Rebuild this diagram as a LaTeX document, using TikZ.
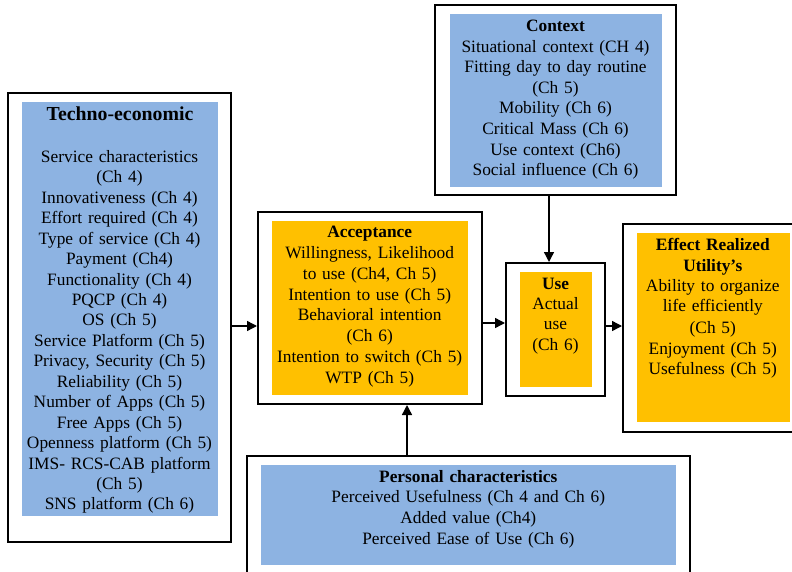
\documentclass[tikz,border=0pt]{standalone}
\usepackage{fontspec}
\setmainfont{Liberation Serif}
\usetikzlibrary{arrows.meta}
\definecolor{boxblue}{RGB}{141,179,226}
\definecolor{boxgold}{RGB}{255,192,0}
\tikzset{
  frame/.style={draw=black, line width=2pt, fill=white, inner sep=0pt},
  bluefill/.style={fill=boxblue, draw=none, inner sep=0pt},
  goldfill/.style={fill=boxgold, draw=none, inner sep=0pt},
  txt/.style={anchor=base, inner sep=0pt, text width=300pt, align=center,
    font=\fontsize{17.35}{#1}\selectfont},
  txt/.default=20.45,
  arr/.style={line width=1.4pt, -{Triangle[length=10pt,width=10pt]}}
}
\begin{document}
\begin{tikzpicture}[x=1pt,y=-1pt]
\useasboundingbox (0,0) rectangle (792,572);
\clip (0,0) rectangle (792,572);

% Techno-economic factors
\node[frame, minimum width=223pt, minimum height=449pt] (tech) at (119.5,317.5) {};
\node[bluefill, minimum width=196pt, minimum height=414pt] (techin) at (120,309) {};
\node[anchor=base, inner sep=0pt, font=\fontsize{19.8}{24}\selectfont\bfseries] (techhead) at (120,121) {Techno-economic};
\node[txt] (techtxt) at (119.5,162.3) {Service characteristics\\(Ch 4)\\Innovativeness (Ch 4)\\Effort required (Ch 4)\\Type of service (Ch 4)\\Payment (Ch4)\\Functionality (Ch 4)\\PQCP (Ch 4)\\OS (Ch 5)\\Service Platform (Ch 5)\\Privacy, Security (Ch 5)\\Reliability (Ch 5)\\Number of Apps (Ch 5)\\Free Apps (Ch 5)\\Openness platform (Ch 5)\\IMS- RCS-CAB platform\\(Ch 5)\\SNS platform (Ch 6)};

% Context
\node[frame, minimum width=241pt, minimum height=190pt] (ctx) at (555.5,100) {};
\node[bluefill, minimum width=212pt, minimum height=173pt] (ctxin) at (556,100.5) {};
\node[txt=20.57] (ctxtxt) at (555.5,31.7) {\textbf{Context}\\Situational context (CH 4)\\Fitting day to day routine\\(Ch 5)\\Mobility (Ch 6)\\Critical Mass (Ch 6)\\Use context (Ch6)\\Social influence (Ch 6)};

% Acceptance
\node[frame, minimum width=224pt, minimum height=192pt] (acc) at (370,308) {};
\node[goldfill, minimum width=196pt, minimum height=174pt] (accin) at (370,308) {};
\node[txt=20.8] (acctxt) at (369.7,237.7) {\textbf{Acceptance}\\Willingness, Likelihood\\to use (Ch4, Ch 5)\\Intention to use (Ch 5)\\Behavioral intention\\(Ch 6)\\Intention to switch (Ch 5)\\WTP (Ch 5)};

% Use
\node[frame, minimum width=99pt, minimum height=133pt] (use) at (555.5,329.5) {};
\node[goldfill, minimum width=72pt, minimum height=115pt] (usein) at (556,329.5) {};
\node[txt=20.4] (usetxt) at (555.5,289) {\textbf{Use}\\Actual\\use\\(Ch 6)};

% Effect realized
\node[frame, minimum width=183pt, minimum height=208pt] (eff) at (714.5,328) {};
\node[goldfill, minimum width=153pt, minimum height=189pt] (effin) at (713.5,327.5) {};
\node[txt=20.4] (efftxt) at (712.8,250.7) {\textbf{Effect Realized}\\\textbf{Utility’s}\\Ability to organize\\life efficiently\\[1.5pt](Ch 5)\\Enjoyment (Ch 5)\\Usefulness (Ch 5)};

% Personal characteristics
\node[frame, minimum width=443pt, minimum height=134pt] (per) at (468.5,523) {};
\node[bluefill, minimum width=415pt, minimum height=100pt] (perin) at (468.5,515) {};
\node[txt=20.67] (pertxt) at (468.3,482.3) {\textbf{Personal characteristics}\\Perceived Usefulness (Ch 4 and Ch 6)\\Added value (Ch4)\\Perceived Ease of Use (Ch 6)};

% Connectors
\draw[arr] (tech.east |- 0,326) -- (acc.west |- 0,326);
\draw[arr] (acc.east |- 0,323) -- (use.west |- 0,323);
\draw[arr] (use.east |- 0,326) -- (eff.west |- 0,326);
\draw[arr] (ctx.south -| 549,0) -- (use.north -| 549,0);
\draw[arr] (per.north -| 407,0) -- (acc.south -| 407,0);
\end{tikzpicture}
\end{document}
